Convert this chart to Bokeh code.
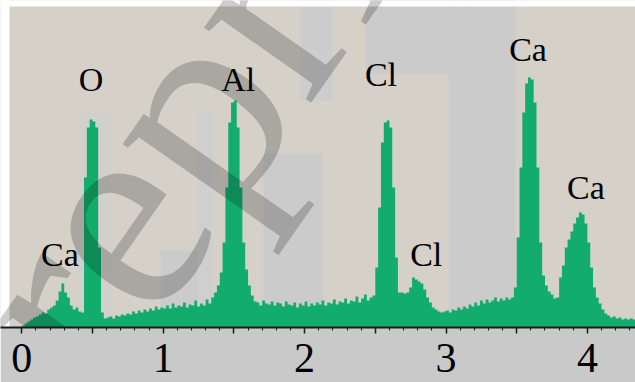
import math
import numpy as np
from bokeh.plotting import figure
from bokeh.models import Range1d, FixedTicker
from bokeh.core.properties import value
from bokeh.embed import file_html
from bokeh.resources import INLINE

# ---------------- data (EDS spectrum) ----------------
channel_start_kev = 0.0
channel_width_kev = 0.02
counts = [
    2, 4, 6, 8, 10, 11, 13, 15, 14, 18, 20, 22, 27, 36, 44, 35, 30, 22, 18, 20, 16, 15,
    150, 200, 208, 206, 200, 80, 15,
    9, 10, 11, 9, 12, 11, 13, 12, 14, 13, 16, 14, 17, 15, 18, 16, 19, 17, 21, 18,
    20, 19, 22, 19, 24, 20, 22, 21, 25, 20, 23, 22, 27, 21, 24, 22, 28, 24,
    30, 35, 42, 55, 85, 140, 205, 225, 227, 200, 140, 85, 58, 42, 32, 26,
    25, 22, 27, 24, 23, 26, 22, 25, 24, 21, 26, 23, 22, 25, 20, 24, 22, 26, 21, 24,
    22, 25, 23, 27, 22, 25, 24, 28, 23, 26, 25, 29, 24, 27, 26, 31, 25, 29, 33, 27, 30, 32,
    60, 120, 185, 205, 207, 200, 140, 70, 35, 35, 34, 35, 40, 50, 48, 46, 44, 38, 30, 25, 20, 18, 16, 15,
    16, 17, 15, 18, 17, 20, 18, 21, 19, 23, 21, 25, 22, 27, 24, 28, 25, 27, 30, 26, 29, 27, 30, 28,
    30, 40, 90, 160, 215, 244, 250, 248, 225, 160, 85, 52, 42, 36, 33, 29, 30, 50, 62, 80, 88, 96,
    104, 110, 115, 113, 104, 85, 60, 40, 30, 24, 18, 14, 12, 10, 11, 9, 10, 8, 9, 8, 9, 8,
]

peak_labels = ["Ca", "O", "Al", "Cl", "Cl", "Ca", "Ca"]
peak_label_kev = [0.27, 0.49, 1.53, 2.54, 2.86, 3.58, 3.99]
peak_label_counts = [60, 235, 235, 240, 60, 265, 127]

major_tick_kev = [0.0, 0.5, 1.0, 1.5, 2.0, 2.5, 3.0, 3.5, 4.0]
minor_tick_kev = [round(0.1 * k, 1) for k in range(0, 44)]
tick_label_text = {0.0: "0", 1.0: "1", 2.0: "2", 3.0: "3", 4.0: "4",
                   0.5: "", 1.5: "", 2.5: "", 3.5: ""}

# ---------------- styling / layout ----------------
W, H = 635, 382
AXIS_PX = 327          # pixel row of the x axis
PX_PER_KEV = 141.4
KEV0_PX = 21.3
SERIF = "Liberation Serif"

def kev_of(px):
    return (px - KEV0_PX) / PX_PER_KEV

def cnt_of(py):
    return AXIS_PX - py

BEIGE = "#d5d1c9"
GRAY = "#cbcbcc"
GREEN = "#12ad6d"

p = figure(width=W, height=H, output_backend="svg", toolbar_location=None,
           x_range=Range1d(kev_of(0), kev_of(W)), y_range=Range1d(0, AXIS_PX),
           min_border_left=0, min_border_right=0, min_border_top=0, min_border_bottom=H - AXIS_PX)
p.background_fill_color = BEIGE
p.border_fill_color = "#c9c9ca"
p.outline_line_color = None
p.grid.visible = False
p.yaxis.visible = False

# background patches of the scanned figure (decoration)
patches_px = [
    (160, 207, 250, 330, GRAY),
    (197, 213, 110, 330, "#cfcfcf"),
    (263, 322, 153, 330, GRAY),
    (300, 332, 0, 100, "#cdcdcd"),
    (365, 468, 0, 73, GRAY),
    (448, 515, 0, 330, GRAY),
    (77, 110, 113, 330, "#d1d0cc"),
]
for l, r, t, b, c in patches_px:
    p.quad(left=kev_of(l), right=kev_of(r), top=cnt_of(t), bottom=cnt_of(b),
           fill_color=c, line_color=None)

# white margins (top and left)
p.quad(left=kev_of(-5), right=kev_of(W + 5), top=cnt_of(-5), bottom=cnt_of(6),
       fill_color="white", line_color=None)
p.quad(left=kev_of(-5), right=kev_of(9), top=cnt_of(-5), bottom=cnt_of(AXIS_PX + 5),
       fill_color="white", line_color=None)

# spectrum as a filled step histogram
n = len(counts)
edges = channel_start_kev + channel_width_kev * np.arange(n + 1)
xs = np.repeat(edges, 2)[1:-1]
ys = np.repeat(np.asarray(counts, dtype=float), 2)
p.varea(x=xs, y1=np.zeros_like(ys), y2=ys, fill_color=GREEN)

# element labels
p.text(x=peak_label_kev, y=peak_label_counts, text=peak_labels,
       text_font=value(SERIF), text_font_size="34px",
       text_align="center", text_baseline="alphabetic", text_color="black", y_offset=-13)

# watermark
wx, wy = 20, 350
p.text(x=[kev_of(wx)], y=[cnt_of(wy)], text=["reprint"],
       text_font=value(SERIF), text_font_size="285px",
       text_align="left", text_baseline="alphabetic", text_color="black",
       text_alpha=0.2, angle=math.radians(55))

# x axis
ax = p.xaxis[0]
ax.ticker = FixedTicker(ticks=major_tick_kev, minor_ticks=minor_tick_kev)
ax.major_label_overrides = tick_label_text
ax.axis_line_width = 2
ax.axis_line_color = "#1a1a1a"
ax.major_tick_out = 6
ax.major_tick_in = 0
ax.minor_tick_out = 3
ax.minor_tick_in = 0
ax.major_tick_line_width = 1.5
ax.minor_tick_line_width = 1
ax.major_tick_line_color = "#1a1a1a"
ax.minor_tick_line_color = "#1a1a1a"
ax.major_label_text_font = SERIF
ax.major_label_text_font_size = "42px"
ax.major_label_text_color = "black"
ax.major_label_standoff = 10

open("out.html", "w").write(file_html(p, INLINE))
